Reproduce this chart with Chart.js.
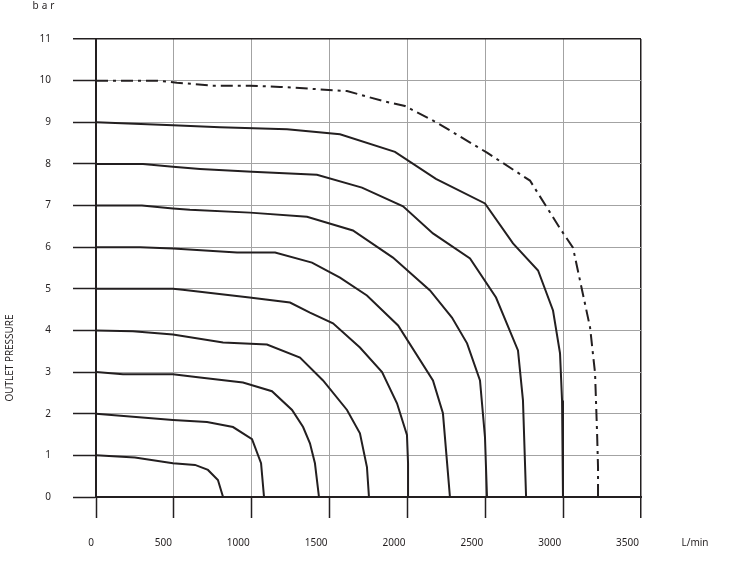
<!DOCTYPE html>
<html>
<head>
<meta charset="utf-8">
<script src="https://cdn.jsdelivr.net/npm/chart.js@4.4.0/dist/chart.umd.min.js"></script>
<style>
	html, body { margin: 0; padding: 0; background: #fff; }
	#wrap { width: 740px; height: 566px; }
</style>
</head>
<body>
<div id="wrap"><canvas id="pressureChart" width="740" height="566"></canvas></div>
<script>
// Axis ticks
const flowTicks = [0, 500, 1000, 1500, 2000, 2500, 3000, 3500]
const pressureTicks = [0, 1, 2, 3, 4, 5, 6, 7, 8, 9, 10, 11]

// Curve data (flow L/min, pressure bar)
const flow1 = [0, 250, 494, 636, 719, 783, 816]
const pres1 = [1.0, 0.95, 0.81, 0.77, 0.65, 0.41, 0]
const flow2 = [0, 494, 713, 880, 1002, 1060, 1079]
const pres2 = [2.0, 1.85, 1.80, 1.68, 1.39, 0.81, 0]
const flow3 = [0, 173, 494, 668, 944, 1130, 1259, 1330, 1374, 1406, 1432]
const pres3 = [3.0, 2.95, 2.95, 2.87, 2.75, 2.54, 2.09, 1.68, 1.29, 0.81, 0]
const flow4 = [0, 237, 494, 816, 1098, 1310, 1458, 1612, 1695, 1740, 1753]
const pres4 = [4.0, 3.98, 3.90, 3.71, 3.66, 3.35, 2.80, 2.09, 1.53, 0.72, 0]
const flow5 = [0, 494, 557, 986, 1246, 1374, 1522, 1695, 1837, 1933, 1997, 2004, 2004]
const pres5 = [5.0, 5.0, 4.98, 4.79, 4.67, 4.43, 4.17, 3.59, 3.0, 2.25, 1.49, 0.81, 0]
const flow6 = [0, 283, 494, 906, 1150, 1387, 1567, 1740, 1940, 2164, 2228, 2273]
const pres6 = [6.0, 6.0, 5.97, 5.87, 5.87, 5.63, 5.27, 4.84, 4.12, 2.80, 2.01, 0]
const flow7 = [0, 295, 494, 603, 989, 1355, 1650, 1907, 2145, 2286, 2383, 2466, 2498, 2511]
const pres7 = [7.0, 7.0, 6.93, 6.9, 6.83, 6.73, 6.40, 5.75, 4.96, 4.31, 3.69, 2.80, 1.44, 0]
const flow8 = [0, 302, 494, 668, 1002, 1419, 1708, 1972, 2164, 2402, 2569, 2710, 2742, 2762]
const pres8 = [8.0, 8.0, 7.93, 7.88, 7.81, 7.74, 7.43, 6.98, 6.33, 5.73, 4.79, 3.52, 2.32, 0]
const flow9 = [0, 494, 796, 1227, 1567, 1920, 2183, 2498, 2678, 2839, 2935, 2980, 2993, 2999]
const pres9 = [9.0, 8.93, 8.88, 8.83, 8.71, 8.29, 7.64, 7.05, 6.09, 5.44, 4.48, 3.45, 2.32, 0]
const flowMax = [0, 392, 520, 751, 989, 1182, 1612, 1843, 1984, 2190, 2511, 2787, 2980, 3063, 3173, 3205, 3218, 3224, 3224]
const presMax = [10.0, 10.0, 9.95, 9.88, 9.88, 9.85, 9.75, 9.51, 9.39, 8.99, 8.27, 7.6, 6.45, 5.99, 4.07, 2.97, 1.53, 0.72, 0]

const solidCurves = [
	[flow1, pres1], [flow2, pres2], [flow3, pres3], [flow4, pres4], [flow5, pres5],
	[flow6, pres6], [flow7, pres7], [flow8, pres8], [flow9, pres9],
]

const ink = '#231f20'
const gridGrey = '#a3a3a3'
const fontFam = '"Noto Sans", "DejaVu Sans", sans-serif'

const toPoints = (xs, ys) => xs.map((x, i) => ({ x: x, y: ys[i] }))

const datasets = solidCurves.map(([xs, ys]) => ({
	data: toPoints(xs, ys),
	borderColor: ink,
	borderWidth: 2,
	pointRadius: 0,
	tension: 0,
	fill: false,
}))
datasets.push({
	data: toPoints(flowMax, presMax),
	borderColor: ink,
	borderWidth: 2,
	borderDash: [12, 5, 3, 5],
	pointRadius: 0,
	tension: 0,
	fill: false,
})

// Extra texts: units and axis title
const extraText = {
	id: 'extraText',
	afterDraw(chart) {
		const ctx = chart.ctx
		ctx.save()
		ctx.fillStyle = ink
		ctx.textBaseline = 'middle'
		ctx.textAlign = 'center'
		ctx.font = '10px ' + fontFam
		ctx.letterSpacing = '3px'
		ctx.fillText('bar', 45, 6)
		ctx.letterSpacing = '0px'
		ctx.fillText('L/min', 695, 543)
		// axis title, rotated
		ctx.translate(10, 358)
		ctx.rotate(-Math.PI / 2)
		const w = ctx.measureText('OUTLET PRESSURE').width
		ctx.scale(87 / w, 1)
		ctx.fillText('OUTLET PRESSURE', 0, 0)
		ctx.restore()
	},
}

const ctx = document.getElementById('pressureChart').getContext('2d')
const chart = new Chart(ctx, {
	type: 'line',
	data: { datasets: datasets },
	options: {
		responsive: false,
		animation: false,
		layout: { padding: { top: 39, right: 99, left: 0, bottom: 0 } },
		plugins: {
			legend: { display: false },
			tooltip: { enabled: false },
		},
		scales: {
			x: {
				type: 'linear',
				min: 0,
				max: 3500,
				afterBuildTicks: (scale) => {
					scale.ticks = flowTicks.map((v) => ({ value: v }))
				},
				afterFit: (scale) => { scale.height = 69 },
				border: { display: true, color: ink, width: 2 },
				grid: {
					color: (c) => (c.tick && c.tick.value === 3500 ? ink : gridGrey),
					lineWidth: (c) => (c.tick && c.tick.value === 3500 ? 1.5 : 1),
					tickColor: ink,
					tickLength: 21,
					tickWidth: 1.5,
				},
				ticks: {
					color: ink,
					font: { family: fontFam, size: 10 },
					padding: 19,
					align: 'end',
					labelOffset: -2,
					maxRotation: 0,
					callback: (v) => String(v),
				},
			},
			y: {
				type: 'linear',
				min: 0,
				max: 11,
				afterBuildTicks: (scale) => {
					scale.ticks = pressureTicks.map((v) => ({ value: v }))
				},
				afterFit: (scale) => { scale.width = 96 },
				border: { display: true, color: ink, width: 2 },
				grid: {
					color: (c) => (c.tick && c.tick.value === 11 ? ink : gridGrey),
					lineWidth: (c) => (c.tick && c.tick.value === 11 ? 1.5 : 1),
					tickColor: ink,
					tickLength: 23,
					tickWidth: 1.5,
				},
				ticks: {
					color: ink,
					font: { family: fontFam, size: 10 },
					padding: 22,
					callback: (v) => String(v),
				},
			},
		},
	},
	plugins: [extraText],
})
</script>
</body>
</html>
